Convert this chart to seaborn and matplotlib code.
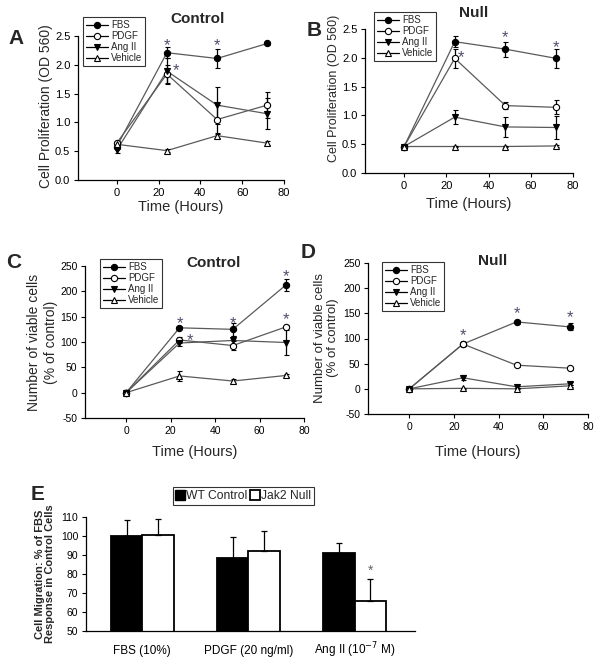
import numpy as np
import pandas as pd
import matplotlib
matplotlib.use("Agg")
import matplotlib.pyplot as plt
import seaborn as sns
from matplotlib.lines import Line2D

sns.set_style("ticks")
plt.rcParams['font.family'] = ['Liberation Sans', 'DejaVu Sans']

# time course data (order: FBS, PDGF, Ang II, Vehicle)
hours = [0, 24, 48, 72]
series = ["FBS", "PDGF", "Ang II", "Vehicle"]

# A: control cells, OD 560
a_means = [[0.58, 2.21, 2.11, 2.37],
           [0.64, 1.84, 1.05, 1.30],
           [0.52, 1.89, 1.30, 1.15],
           [0.62, 0.51, 0.77, 0.64]]
a_errs = [[0.04, 0.10, 0.17, 0.03],
          [0.04, 0.16, 0.25, 0.22],
          [0.05, 0.22, 0.32, 0.27],
          [0.03, 0.03, 0.04, 0.04]]
a_stars = [(24, 2.42), (48, 2.42), (72, 2.56), (28.5, 1.98)]

# B: Jak2 null cells, OD 560
b_means = [[0.46, 2.28, 2.15, 1.99],
           [0.46, 1.99, 1.17, 1.14],
           [0.46, 0.97, 0.80, 0.79],
           [0.46, 0.46, 0.46, 0.47]]
b_errs = [[0.02, 0.10, 0.13, 0.16],
          [0.02, 0.17, 0.06, 0.12],
          [0.02, 0.12, 0.17, 0.20],
          [0.01, 0.01, 0.01, 0.01]]
b_stars = [(27, 2.09), (48, 2.43), (72, 2.27)]

# C: control cells, viable cells (% of control)
c_means = [[0, 128, 125, 213],
           [0, 104, 93, 130],
           [0, 98, 103, 99],
           [0, 33, 23, 34]]
c_errs = [[5, 3, 13, 12],
          [5, 5, 8, 3],
          [5, 5, 8, 24],
          [5, 9, 3, 3]]
c_stars = [(24, 147), (28.5, 112), (48, 147), (72, 239), (72, 153)]

# D: Jak2 null cells, viable cells (% of control)
d_means = [[0, 89, 133, 123],
           [0, 89, 47, 41],
           [0, 22, 4, 10],
           [0, 1, 0, 6]]
d_errs = [[2, 4, 4, 7],
          [2, 4, 3, 3],
          [2, 5, 2, 3],
          [2, 1, 1, 2]]
d_stars = [(24, 115), (48, 160), (72, 152)]

# E: migration
e_groups = ["FBS (10%)", "PDGF (20 ng/ml)", "Ang II (10$^{-7}$ M)"]
e_wt = [100.0, 88.5, 91.3]
e_wt_err = [8.6, 11.0, 5.2]
e_null = [100.4, 92.2, 66.0]
e_null_err = [8.6, 10.3, 11.6]

W, H = 602, 666
markers = {"FBS": ("o", "black"), "PDGF": ("o", "white"),
           "Ang II": ("v", "black"), "Vehicle": ("^", "white")}
star_color = "#4f4f6e"

fig = plt.figure(figsize=(W / 100, H / 100), dpi=100)


def px_axes(left, right, top, bottom):
    return fig.add_axes([left / W, 1 - bottom / H, (right - left) / W, (bottom - top) / H])


def style_axes(ax, size):
    sns.despine(ax=ax)
    for s in ["left", "bottom"]:
        ax.spines[s].set_linewidth(0.9)
        ax.spines[s].set_color("black")
    ax.tick_params(axis="both", direction="out", length=3, width=0.8,
                   labelsize=size, colors="black", pad=2.5)


def draw_course(ax, means, errs, stars, ylim, yticks, yfmt, size):
    for name, m, e in zip(series, means, errs):
        mk, fc = markers[name]
        sns.lineplot(x=hours, y=m, ax=ax, color="#5a5a5a", lw=0.9, zorder=2)
        ax.errorbar(hours, m, yerr=e, fmt=mk, ms=4.5, mfc=fc, mec="black", mew=0.8,
                    ecolor="black", elinewidth=0.9, capsize=1.8, capthick=0.9,
                    zorder=3, clip_on=False)
    for x, y in stars:
        ax.annotate("*", xy=(x, y), xytext=(0, -6.8), textcoords="offset points",
                    ha="center", va="baseline", fontsize=12, color=star_color)
    ax.set_xlim(-18.5, 80)
    ax.set_ylim(*ylim)
    ax.set_xticks([0, 20, 40, 60, 80])
    ax.set_yticks(yticks)
    ax.set_yticklabels([yfmt.format(v) for v in yticks])
    style_axes(ax, size)


def course_legend(ax, x, y):
    handles = []
    for name in series:
        mk, fc = markers[name]
        handles.append(Line2D([0], [0], color="black", lw=0.9, marker=mk, ms=4.5,
                              mfc=fc, mec="black", mew=0.8))
    leg = ax.legend(handles, series, loc="upper left",
                    bbox_to_anchor=(x / W, 1 - y / H), bbox_transform=fig.transFigure,
                    fontsize=7, frameon=True, fancybox=False, handlelength=2.3,
                    handletextpad=0.3, labelspacing=0.12, borderpad=0.3,
                    borderaxespad=0)
    leg.get_frame().set_edgecolor("black")
    leg.get_frame().set_linewidth(0.8)


def label(x, y, s, size, weight="normal", **kw):
    fig.text(x / W, 1 - y / H, s, fontsize=size, fontweight=weight,
             ha="center", va="center", **kw)


od_ticks = [0.0, 0.5, 1.0, 1.5, 2.0, 2.5]
via_ticks = [-50, 0, 50, 100, 150, 200, 250]

# Panel A
axA = px_axes(78, 284, 36, 180)
draw_course(axA, a_means, a_errs, a_stars, (0, 2.5), od_ticks, "{:.1f}", 8)
axA.set_ylabel("Cell Proliferation (OD 560)", fontsize=10)
axA.yaxis.set_label_coords(-0.121, 0.51)
axA.set_xlabel("Time (Hours)", fontsize=10.5)
axA.xaxis.set_label_coords(0.5, -0.139)
course_legend(axA, 83, 17)

# Panel B
axB = px_axes(365, 573, 29, 173)
draw_course(axB, b_means, b_errs, b_stars, (0, 2.5), od_ticks, "{:.1f}", 8)
axB.set_ylabel("Cell Proliferation (OD 560)", fontsize=9)
axB.yaxis.set_label_coords(-0.12, 0.585)
axB.set_xlabel("Time (Hours)", fontsize=10.5)
axB.xaxis.set_label_coords(0.5, -0.167)
course_legend(axB, 374, 12)

# Panel C
axC = px_axes(85, 304, 266, 418)
draw_course(axC, c_means, c_errs, c_stars, (-50, 250), via_ticks, "{:d}", 7.5)
axC.set_ylabel("Number of viable cells\n(% of control)", fontsize=10)
axC.yaxis.set_label_coords(-0.125, 0.5)
axC.set_xlabel("Time (Hours)", fontsize=10.5)
axC.xaxis.set_label_coords(0.5, -0.178)
course_legend(axC, 100, 259)

# Panel D
axD = px_axes(368, 588, 263, 414)
draw_course(axD, d_means, d_errs, d_stars, (-50, 250), via_ticks, "{:d}", 7.5)
axD.set_ylabel("Number of viable cells\n(% of control)", fontsize=9.5)
axD.yaxis.set_label_coords(-0.13, 0.503)
axD.set_xlabel("Time (Hours)", fontsize=10.5)
axD.xaxis.set_label_coords(0.5, -0.205)
course_legend(axD, 382, 262)

# Panel E
axE = px_axes(86, 415, 517, 631)
df_e = pd.DataFrame({
    "treatment": e_groups * 2,
    "genotype": ["WT Control"] * 3 + ["Jak2 Null"] * 3,
    "value": e_wt + e_null,
})
sns.barplot(data=df_e, x="treatment", y="value", hue="genotype",
            palette={"WT Control": "black", "Jak2 Null": "white"},
            edgecolor="black", linewidth=1.3, width=0.59, errorbar=None,
            legend=False, ax=axE)
for cont, errs in zip(axE.containers, [e_wt_err, e_null_err]):
    for bar, err in zip(cont, errs):
        cx = bar.get_x() + bar.get_width() / 2
        axE.errorbar([cx], [bar.get_height()], yerr=[[0], [err]], fmt="none",
                     ecolor="black", elinewidth=0.9, capsize=2.5, capthick=0.9)
last = axE.containers[1][2]
axE.annotate("*", xy=(last.get_x() + last.get_width() / 2, 84), xytext=(0, -6),
             textcoords="offset points", ha="center", va="baseline",
             fontsize=10, color="#666666")
axE.set_ylim(50, 110)
axE.set_xlim(-0.53, 2.57)
axE.set_yticks(range(50, 111, 10))
style_axes(axE, 7.5)
axE.tick_params(axis="x", length=0, pad=16.5, labelsize=8.5)
for lbl in axE.get_xticklabels():
    lbl.set_verticalalignment("baseline")
axE.set_xlabel("")
axE.set_ylabel("Cell Migration: % of FBS\nResponse in Control Cells",
               fontsize=8, fontweight="bold", linespacing=1.0)
axE.yaxis.set_label_coords(-0.094, 0.5)
e_handles = [Line2D([0], [0], ls="none", marker="s", ms=7, mfc="black", mec="black"),
             Line2D([0], [0], ls="none", marker="s", ms=6.5, mfc="white", mec="black", mew=1.3)]
legE = axE.legend(e_handles, ["WT Control", "Jak2 Null"], loc="upper left", ncol=2,
                  bbox_to_anchor=(173 / W, 1 - 487 / H), bbox_transform=fig.transFigure,
                  fontsize=8.7, frameon=True, fancybox=False, handlelength=0.7,
                  handletextpad=0.15, columnspacing=0.3, borderpad=0.25,
                  borderaxespad=0)
legE.get_frame().set_edgecolor("black")
legE.get_frame().set_linewidth(0.8)

# titles and panel letters
label(198, 19, "Control", 11, "bold")
label(474, 13, "Null", 11, "bold")
label(214, 263, "Control", 11, "bold")
label(493, 261, "Null", 11, "bold")
label(16, 38, "A", 15, "bold")
label(314, 31, "B", 15, "bold")
label(14, 262, "C", 15, "bold")
label(308, 252, "D", 15, "bold")
label(38, 495, "E", 15, "bold")

fig.savefig("out.png", dpi=100, facecolor="white")
